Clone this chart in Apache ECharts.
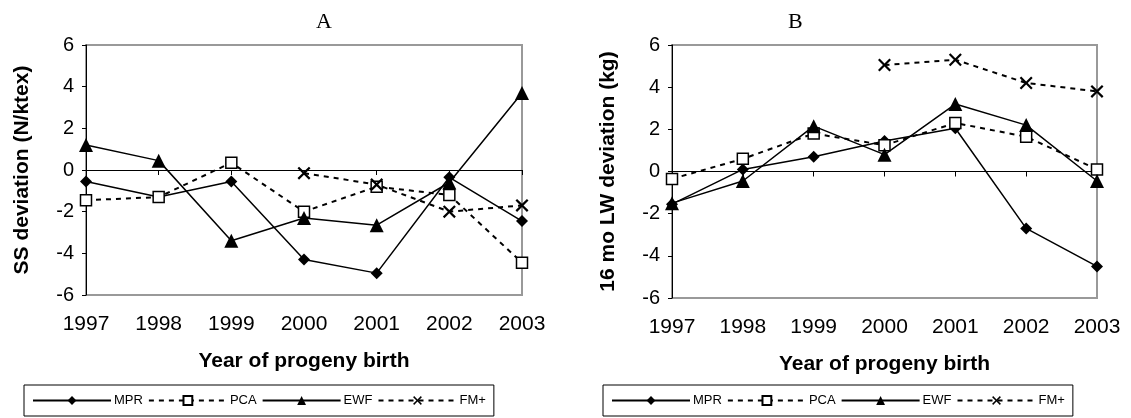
<!DOCTYPE html>
<html>
<head>
<meta charset="utf-8">
<script src="https://cdn.jsdelivr.net/npm/echarts@6/dist/echarts.min.js"></script>
<style>html,body{margin:0;padding:0;background:#fff}#c{width:1131px;height:418px}</style>
</head>
<body>
<div id="c"></div>
<script>
const years = ['1997','1998','1999','2000','2001','2002','2003'];
const yTicks = [-6,-4,-2,0,2,4,6];
// Panel A: SS deviation (N/ktex)
const A_MPR = [-0.55, -1.3, -0.55, -4.3, -4.95, -0.35, -2.45];
const A_PCA = [-1.45, -1.3, 0.35, -2.0, -0.8, -1.2, -4.45];
const A_EWF = [1.2, 0.45, -3.4, -2.3, -2.65, -0.6, 3.7];
const A_FM  = [null, null, null, -0.15, -0.7, -2.0, -1.7];
// Panel B: 16 mo LW deviation (kg)
const B_MPR = [-1.55, 0.1, 0.7, 1.45, 2.05, -2.7, -4.5];
const B_PCA = [-0.35, 0.6, 1.8, 1.25, 2.3, 1.65, 0.1];
const B_EWF = [-1.5, -0.45, 2.15, 0.8, 3.2, 2.2, -0.45];
const B_FM  = [null, null, null, 5.05, 5.3, 4.2, 3.8];

const XSYM = 'path://M0,1.2 L1.2,0 L5,3.8 L8.8,0 L10,1.2 L6.2,5 L10,8.8 L8.8,10 L5,6.2 L1.2,10 L0,8.8 L3.8,5 Z';
const font = 'Arial, "Liberation Sans", sans-serif';

function mk(name, data, idx, kind) {
  const base = {name, type:'line', data, xAxisIndex: idx, yAxisIndex: idx, connectNulls:false, animation:false, z: 3};
  if (kind === 'MPR') return Object.assign(base, {symbol:'diamond', symbolSize:12, lineStyle:{color:'#000', width:1.5, type:'solid'}, itemStyle:{color:'#000'}});
  if (kind === 'PCA') return Object.assign(base, {symbol:'rect', symbolSize:11, lineStyle:{color:'#000', width:2, type:[5,5]}, itemStyle:{color:'#fff', borderColor:'#000', borderWidth:1.5}});
  if (kind === 'EWF') return Object.assign(base, {symbol:'triangle', symbolSize:14, lineStyle:{color:'#000', width:1.5, type:'solid'}, itemStyle:{color:'#000'}});
  return Object.assign(base, {symbol:XSYM, symbolSize:13, lineStyle:{color:'#000', width:2, type:[5,5]}, itemStyle:{color:'#000'}});
}

function xAx(idx) {
  return {type:'category', gridIndex: idx, data: years, boundaryGap:false,
    name:'Year of progeny birth', nameLocation:'middle', nameGap:56,
    nameTextStyle:{fontFamily:font, fontWeight:'bold', fontSize:21, color:'#000'},
    axisLine:{lineStyle:{color:'#000', width:1}},
    axisTick:{show:true, length:5, inside:false, lineStyle:{color:'#000'}},
    axisLabel:{fontFamily:font, fontSize:21, color:'#000', margin:19},
    splitLine:{show:false}};
}
function yAx(idx, name) {
  return {type:'value', gridIndex: idx, min:-6, max:6, interval:2,
    name, nameLocation:'middle', nameGap:53,
    nameTextStyle:{fontFamily:font, fontWeight:'bold', fontSize:21, color:'#000'},
    axisLine:{show:true, lineStyle:{color:'#000', width:1}},
    axisTick:{show:true, length:4, lineStyle:{color:'#000'}},
    axisLabel:{fontFamily:font, fontSize:20, color:'#000', margin:12,
      customValues: yTicks},
    splitLine:{show:false}};
}
const legendCommon = {
  top: 385, orient:'horizontal', itemWidth:78, itemHeight:11, itemGap:5,
  borderColor:'#000', borderWidth:1, padding:[9, 8, 9, 8], backgroundColor:'#fff',
  selectedMode:false,
  textStyle:{fontFamily:font, fontSize:13, color:'#000', padding:[0,0,0,-2]}
};
const names = ['MPR','PCA','EWF','FM+'];

const chart = echarts.init(document.getElementById('c'), null, {renderer:'canvas'});
chart.setOption({
  backgroundColor:'#fff',
  animation:false,
  title:[
    {text:'A', left:311, top:6, textStyle:{fontFamily:'"Liberation Serif", "Times New Roman", serif', fontWeight:'normal', fontSize:22, color:'#000'}},
    {text:'B', left:783, top:6, textStyle:{fontFamily:'"Liberation Serif", "Times New Roman", serif', fontWeight:'normal', fontSize:22, color:'#000'}}
  ],
  grid:[
    {left:86, top:45, width:436, height:250, show:true, borderColor:'#999', borderWidth:2, backgroundColor:'transparent'},
    {left:672, top:45, width:425, height:253, show:true, borderColor:'#999', borderWidth:2, backgroundColor:'transparent'}
  ],
  xAxis:[xAx(0), xAx(1)],
  yAxis:[yAx(0, 'SS deviation (N/ktex)'), yAx(1, '16 mo LW deviation (kg)')],
  legend:[
    Object.assign({}, legendCommon, {left:24, data:names}),
    Object.assign({}, legendCommon, {left:603, data:names})
  ],
  series:[
    mk('MPR', A_MPR, 0, 'MPR'), mk('PCA', A_PCA, 0, 'PCA'), mk('EWF', A_EWF, 0, 'EWF'), mk('FM+', A_FM, 0, 'FM'),
    mk('MPR', B_MPR, 1, 'MPR'), mk('PCA', B_PCA, 1, 'PCA'), mk('EWF', B_EWF, 1, 'EWF'), mk('FM+', B_FM, 1, 'FM')
  ]
});
</script>
</body>
</html>
